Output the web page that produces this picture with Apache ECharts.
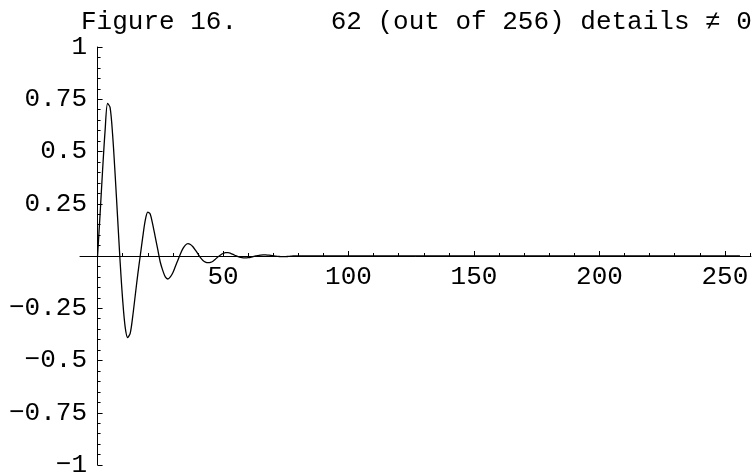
<!DOCTYPE html>
<html>
<head>
<meta charset="utf-8">
<script src="https://cdn.jsdelivr.net/npm/echarts@6/dist/echarts.min.js"></script>
<style>
  html, body { margin: 0; padding: 0; background: #fff; }
  #chart { width: 752px; height: 472px; }
</style>
</head>
<body>
<div id="chart"></div>
<script>
// Reconstructed signal: sample index and value
const sampleX = [
  0, 1, 2, 3, 4, 5, 6, 7, 8, 9,
  10, 11, 12, 13, 14, 15, 16, 17, 18, 19,
  20, 21, 22, 23, 24, 25, 26, 27, 28, 29,
  30, 31, 32, 33, 34, 35, 36, 37, 38, 39,
  40, 41, 42, 43, 44, 45, 46, 47, 48, 49,
  50, 51, 52, 53, 54, 55, 56, 57, 58, 59,
  60, 61, 62, 63, 64, 65, 66, 67, 68, 69,
  70, 71, 72, 73, 74, 75, 76, 77, 78, 79,
  80, 100, 150, 200, 256
];
const sampleY = [
  0, 0.20, 0.41, 0.60, 0.73, 0.71, 0.58, 0.39, 0.18, -0.03,
  -0.21, -0.34, -0.39, -0.37, -0.29, -0.19, -0.09, 0.00, 0.09, 0.17,
  0.21, 0.20, 0.15, 0.09, 0.03, -0.03, -0.07, -0.10, -0.11, -0.10,
  -0.08, -0.05, -0.02, 0.01, 0.035, 0.052, 0.059, 0.055, 0.044, 0.028,
  0.010, -0.008, -0.021, -0.029, -0.032, -0.031, -0.025, -0.015, -0.004, 0.005,
  0.012, 0.016, 0.016, 0.013, 0.008, 0.002, -0.003, -0.007, -0.009, -0.009,
  -0.008, -0.006, -0.003, 0.000, 0.002, 0.004, 0.005, 0.005, 0.004, 0.003,
  0.001, -0.001, -0.002, -0.003, -0.003, -0.003, -0.002, -0.001, 0.000, 0.000,
  0.000, 0.000, 0.000, 0.000, 0.000
];

// Axis ticks and labels
const xMajorTicks = [50, 100, 150, 200, 250];
const xMajorLabels = ['50', '100', '150', '200', '250'];
const xMinorTicks = [10, 20, 30, 40, 60, 70, 80, 90, 110, 120, 130, 140,
  160, 170, 180, 190, 210, 220, 230, 240, 260];
const yTickValues = [-1, -0.75, -0.5, -0.25, 0, 0.25, 0.5, 0.75, 1];
const yTickLabels = ['\u22121', '\u22120.75', '\u22120.5', '\u22120.25', '',
  '0.25', '0.5', '0.75', '1'];

const titleText = 'Figure 16.      62 (out of 256) details \u2260 0';

const FONT = '"Liberation Mono", "Courier New", monospace';
const FS = 26;
const X_MIN = -7, X_MAX = 260.4;
const gridBox = { left: 80, top: 47, width: 671, height: 418, outerBoundsMode: 'none' };

const chart = echarts.init(document.getElementById('chart'), null, { renderer: 'canvas' });

chart.setOption({
  animation: false,
  backgroundColor: '#ffffff',
  title: {
    text: titleText,
    left: 81,
    top: 9,
    padding: 0,
    textStyle: { fontFamily: FONT, fontSize: FS, fontWeight: 'normal', color: '#000' }
  },
  grid: [Object.assign({}, gridBox), Object.assign({}, gridBox)],
  xAxis: [
    {
      type: 'value', gridIndex: 0, min: X_MIN, max: X_MAX,
      axisLine: { onZero: true, lineStyle: { color: '#000', width: 1 } },
      axisTick: { inside: true, length: 5, customValues: xMajorTicks, lineStyle: { color: '#000' } },
      axisLabel: {
        customValues: xMajorTicks,
        formatter: v => xMajorLabels[xMajorTicks.indexOf(Number(v))] || String(v),
        // labels sit just under the zero line, measured from the grid bottom
        margin: -201, color: '#000', fontFamily: FONT, fontSize: FS
      },
      splitLine: { show: false }
    },
    {
      type: 'value', gridIndex: 1, min: X_MIN, max: X_MAX,
      axisLine: { show: false, onZero: true },
      axisTick: { inside: true, length: 3, customValues: xMinorTicks, lineStyle: { color: '#000' } },
      axisLabel: { show: false },
      splitLine: { show: false }
    }
  ],
  yAxis: [
    {
      type: 'value', gridIndex: 0, min: -1, max: 1, interval: 0.25,
      axisLine: { show: true, onZero: true, lineStyle: { color: '#000', width: 1 } },
      axisTick: { show: true, inside: true, length: 5, lineStyle: { color: '#000' } },
      minorTick: { show: true, splitNumber: 5, length: 3, lineStyle: { color: '#000' } },
      axisLabel: {
        formatter: v => {
          const i = yTickValues.findIndex(t => Math.abs(t - v) < 1e-9);
          return i >= 0 ? yTickLabels[i] : '';
        },
        margin: -7, color: '#000', fontFamily: FONT, fontSize: FS
      },
      splitLine: { show: false }
    },
    {
      type: 'value', gridIndex: 1, min: -1, max: 1, show: false,
      axisLine: { onZero: true }
    }
  ],
  series: [
    {
      type: 'line',
      xAxisIndex: 0, yAxisIndex: 0,
      data: sampleX.map((x, i) => [x, sampleY[i]]),
      showSymbol: false,
      smooth: 0.3,
      lineStyle: { color: '#000', width: 1.3 },
      silent: true
    }
  ]
});
</script>
</body>
</html>
